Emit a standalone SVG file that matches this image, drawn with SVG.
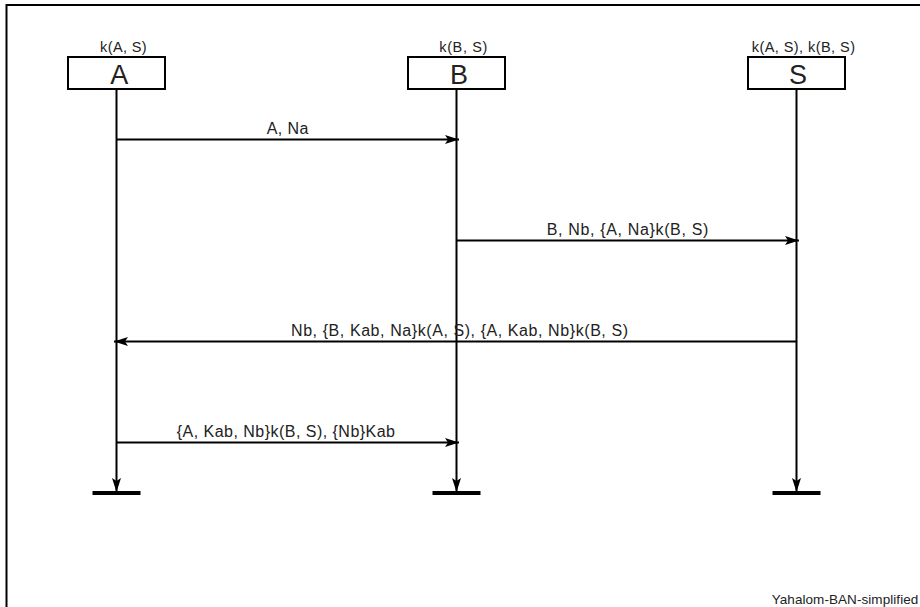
<svg xmlns="http://www.w3.org/2000/svg" width="920" height="607" viewBox="0 0 920 607">
<style>
.box{fill:#fff;stroke:#000;stroke-width:2}
.life{stroke:#000;stroke-width:2;fill:none}
.msg{stroke:#000;stroke-width:2;fill:none}
.bar{stroke:#000;stroke-width:4}
.t{font-family:"Liberation Sans",Arial,sans-serif;fill:#222}
.hdr{font-size:14.5px}
.name{font-size:27px;text-anchor:middle}
.lbl{font-size:16px}
.foot{font-size:13.5px}
</style>
<defs>
<marker id="ah" markerUnits="userSpaceOnUse" markerWidth="16" markerHeight="10" refX="14" refY="4.5" orient="auto">
<path d="M0,0 L14,4.5 L0,9 L3,4.5 z" fill="#000"/>
</marker>
</defs>
<rect width="920" height="607" fill="#fff"/>
<path d="M6.5,607 V5 H920" fill="none" stroke="#000" stroke-width="2"/>
<g id="connectors">
<line class="life" x1="116.5" y1="89" x2="116.5" y2="492" marker-end="url(#ah)"/>
<line class="life" x1="456.5" y1="89" x2="456.5" y2="492" marker-end="url(#ah)"/>
<line class="life" x1="796.5" y1="89" x2="796.5" y2="492" marker-end="url(#ah)"/>
<line class="bar" x1="92.5" y1="493" x2="140.5" y2="493"/>
<line class="bar" x1="432.5" y1="493" x2="480.5" y2="493"/>
<line class="bar" x1="772.5" y1="493" x2="820.5" y2="493"/>
<line class="msg" x1="116.5" y1="139.5" x2="459" y2="139.5" marker-end="url(#ah)"/>
<text class="t lbl" x="266.7" y="134" textLength="41.6">A, Na</text>
<line class="msg" x1="456.5" y1="240.5" x2="799" y2="240.5" marker-end="url(#ah)"/>
<text class="t lbl" x="546.7" y="235" textLength="161.6">B, Nb, {A, Na}k(B, S)</text>
<line class="msg" x1="796.5" y1="341.5" x2="114" y2="341.5" marker-end="url(#ah)"/>
<text class="t lbl" x="291" y="336" textLength="337">Nb, {B, Kab, Na}k(A, S), {A, Kab, Nb}k(B, S)</text>
<line class="msg" x1="116.5" y1="442.5" x2="459" y2="442.5" marker-end="url(#ah)"/>
<text class="t lbl" x="176.7" y="437" textLength="218.3">{A, Kab, Nb}k(B, S), {Nb}Kab</text>
</g>
<g id="A">
<text class="t hdr" x="100" y="52" textLength="46.7">k(A, S)</text>
<rect class="box" x="68" y="57" width="97" height="32"/>
<text class="t name" x="119.3" y="83.5">A</text>
</g>
<g id="B">
<text class="t hdr" x="439.3" y="52" textLength="48">k(B, S)</text>
<rect class="box" x="408" y="57" width="97" height="32"/>
<text class="t name" x="459" y="83.5">B</text>
</g>
<g id="S">
<text class="t hdr" x="751.7" y="52" textLength="103.3">k(A, S), k(B, S)</text>
<rect class="box" x="748" y="57" width="97" height="32"/>
<text class="t name" x="798" y="83.5">S</text>
</g>
<text class="t foot" x="771.7" y="604" textLength="146.6">Yahalom-BAN-simplified</text>
</svg>
